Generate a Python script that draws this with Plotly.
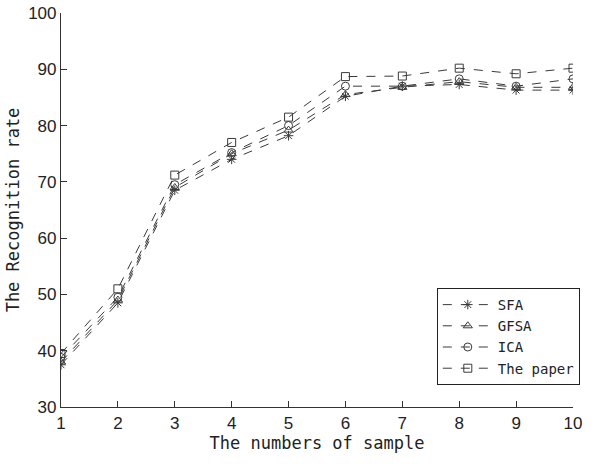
import plotly.graph_objects as go

# Number of training samples
samples = [1, 2, 3, 4, 5, 6, 7, 8, 9, 10]

# Recognition rate (%) for each method
sfa = [37.5, 48.5, 68.5, 74.0, 78.2, 85.2, 87.0, 87.3, 86.3, 86.3]
gfsa = [38.0, 49.0, 69.0, 75.0, 79.2, 85.5, 86.8, 87.8, 86.8, 86.8]
ica = [38.8, 49.5, 69.5, 75.2, 80.0, 87.0, 87.0, 88.3, 87.0, 88.3]
paper = [39.5, 51.0, 71.2, 77.0, 81.5, 88.7, 88.8, 90.2, 89.2, 90.2]

series = [
    ("SFA", sfa, "asterisk-open"),
    ("GFSA", gfsa, "triangle-up-open"),
    ("ICA", ica, "circle-open"),
    ("The paper", paper, "square-open"),
]

line_color = "#3a3a3a"
mono = "DejaVu Sans Mono"
sans = "Liberation Sans"

fig = go.Figure()
for name, vals, sym in series:
    fig.add_trace(go.Scatter(
        x=samples, y=vals, name=name, mode="lines+markers",
        line=dict(color=line_color, width=1, dash="dash"),
        marker=dict(symbol=sym, size=8, color=line_color,
                    line=dict(width=1, color=line_color)),
    ))

fig.update_layout(
    width=607, height=464,
    margin=dict(l=61, r=34, t=13, b=57),
    plot_bgcolor="white", paper_bgcolor="white",
    showlegend=True,
    legend=dict(
        x=0.734, y=0.302, xanchor="left", yanchor="top",
        bgcolor="white", bordercolor="#222", borderwidth=1,
        font=dict(family=mono, size=14, color="#222"),
        tracegroupgap=2, itemwidth=50,
    ),
    xaxis=dict(
        range=[1, 10], tickvals=samples, ticks="inside", ticklen=6,
        tickcolor="#333", showline=True, linecolor="#333", linewidth=1.2,
        showgrid=False, zeroline=False, automargin=False,
        tickfont=dict(family=sans, size=17, color="#222"),
        title=dict(text="The numbers of sample",
                   font=dict(family=mono, size=17, color="#222"), standoff=5),
    ),
    yaxis=dict(
        range=[30, 100], tickvals=[30, 40, 50, 60, 70, 80, 90, 100],
        ticks="inside", ticklen=6, tickcolor="#333",
        showline=True, linecolor="#333", linewidth=1.2,
        showgrid=False, zeroline=False, automargin=False,
        tickfont=dict(family=sans, size=17, color="#222"),
        title=dict(text="The Recognition rate",
                   font=dict(family=mono, size=17, color="#222"), standoff=4),
    ),
)

fig.write_html("out.html")
